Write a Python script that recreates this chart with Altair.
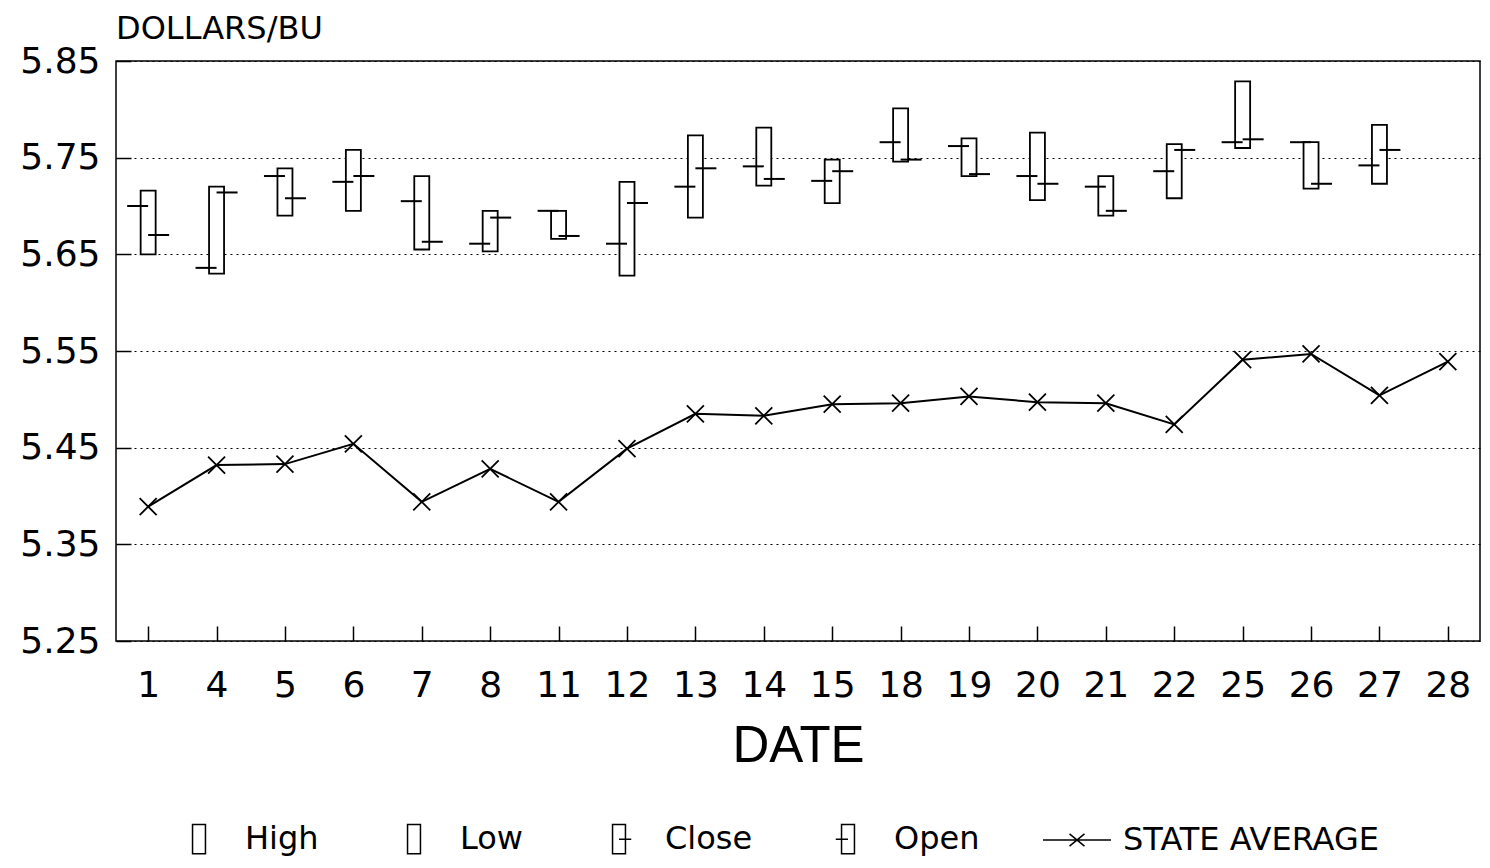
import altair as alt
import pandas as pd

# ---------------- data ----------------
dates = ["1", "4", "5", "6", "7", "8", "11", "12", "13", "14",
         "15", "18", "19", "20", "21", "22", "25", "26", "27", "28"]

high = [5.716, 5.720, 5.739, 5.758, 5.731, 5.695, 5.695, 5.725, 5.773, 5.781,
        5.748, 5.801, 5.770, 5.776, 5.731, 5.764, 5.829, 5.766, 5.784, None]
low = [5.650, 5.630, 5.690, 5.695, 5.655, 5.653, 5.666, 5.628, 5.688, 5.721,
       5.703, 5.746, 5.731, 5.706, 5.690, 5.708, 5.760, 5.718, 5.723, None]
open_ = [5.700, 5.636, 5.731, 5.725, 5.705, 5.661, 5.695, 5.661, 5.720, 5.741,
         5.726, 5.766, 5.762, 5.731, 5.720, 5.736, 5.766, 5.766, 5.742, None]
close = [5.670, 5.714, 5.708, 5.731, 5.663, 5.688, 5.669, 5.703, 5.739, 5.728,
         5.736, 5.748, 5.733, 5.723, 5.695, 5.758, 5.769, 5.723, 5.758, None]
state_avg = [5.389, 5.432, 5.433, 5.454, 5.394, 5.428, 5.394, 5.449, 5.485, 5.483,
             5.495, 5.496, 5.503, 5.497, 5.496, 5.474, 5.541, 5.547, 5.504, 5.539]

y_ticks = [5.25, 5.35, 5.45, 5.55, 5.65, 5.75, 5.85]
series_names = ["High", "Low", "Close", "Open", "STATE AVERAGE"]

# ---------------- tables ----------------
df = pd.DataFrame({"date": dates, "high": high, "low": low,
                   "open": open_, "close": close, "avg": state_avg})

long_rows = []
for i, d in enumerate(dates):
    for name, arr in zip(series_names, [high, low, close, open_, state_avg]):
        if arr[i] is not None:
            long_rows.append({"date": d, "series": name, "value": arr[i]})
df_long = pd.DataFrame(long_rows)

# legend glyphs (custom symbol paths)
rect = "M-0.19,-0.43H0.19V0.43H-0.19Z"
legend_paths = [
    rect,
    rect,
    rect + "M0,0H0.36",
    rect + "M-0.36,0H0",
    "M-1,0H1M-0.22,-0.18L0.22,0.18M-0.22,0.18L0.22,-0.18",
]
x_marker = "M-1,-1L1,1M-1,1L1,-1"

FONT = "DejaVu Sans"

x_enc = alt.X(
    "date:O",
    sort=dates,
    scale=alt.Scale(type="point", padding=0.47),
    axis=alt.Axis(
        title="DATE", labelAngle=0, offset=-15, tickSize=15, tickWidth=1.5,
        tickColor="black", domain=False, grid=False,
        labelPadding=27, labelFont=FONT, labelFontSize=36, labelColor="black",
        titleFont="Liberation Sans", titleFontSize=51, titleFontWeight="normal",
        titleColor="black", titlePadding=18,
    ),
)
y_scale = alt.Scale(domain=[5.25, 5.85], nice=False, zero=False)
y_axis = alt.Axis(
    values=y_ticks, format=".2f", title=None, offset=-15, tickSize=15,
    tickWidth=1.5, tickColor="black", domain=False,
    labelPadding=16, labelFont=FONT, labelFontSize=36, labelColor="black",
    grid=True, gridDash=[2, 4], gridColor="black", gridWidth=1, gridOpacity=1,
)

base = alt.Chart(df)

bars = base.mark_bar(size=15, fill="white", stroke="black", strokeWidth=1.8).encode(
    x=x_enc,
    y=alt.Y("low:Q", scale=y_scale, axis=y_axis),
    y2="high:Q",
)

open_ticks = base.mark_tick(
    xOffset=-10.5, size=21, thickness=2, color="black", opacity=1
).encode(x=x_enc, y=alt.Y("open:Q", scale=y_scale))

close_ticks = base.mark_tick(
    xOffset=10.5, size=21, thickness=2, color="black", opacity=1
).encode(x=x_enc, y=alt.Y("close:Q", scale=y_scale))

avg_line = base.mark_line(color="black", strokeWidth=2).encode(
    x=x_enc, y=alt.Y("avg:Q", scale=y_scale)
)

avg_pts = base.mark_point(
    shape=x_marker, size=289, filled=False, color="black", strokeWidth=1.8, opacity=1
).encode(x=x_enc, y=alt.Y("avg:Q", scale=y_scale))

legend_layer = alt.Chart(df_long).mark_point(
    filled=False, color="black", opacity=0, strokeWidth=1.5
).encode(
    x=x_enc,
    y=alt.Y("value:Q", scale=y_scale),
    shape=alt.Shape(
        "series:N",
        scale=alt.Scale(domain=series_names, range=legend_paths),
        legend=alt.Legend(
            title=None, orient="none", direction="horizontal",
            legendX=48, legendY=743, padding=0,
            symbolSize=4624, symbolStrokeColor="black", symbolStrokeWidth=1.5,
            symbolFillColor="transparent", symbolOpacity=1,
            labelFont=FONT, labelFontSize=32, labelColor="black",
            labelOffset=11, columnPadding=60, labelLimit=400,
        ),
    ),
)

chart = alt.layer(
    bars, open_ticks, close_ticks, avg_line, avg_pts, legend_layer
).properties(
    width=1364,
    height=580,
    background="white",
    autosize=alt.AutoSizeParams(type="none"),
    padding={"left": 108, "top": 53, "right": 2, "bottom": 217},
    title=alt.TitleParams(
        "DOLLARS/BU", anchor="start", frame="group", font=FONT, fontSize=32,
        fontWeight="normal", color="black", offset=-3,
    ),
).configure_view(
    stroke="black", strokeWidth=1.5, fill="white"
)

chart.save("out.html", embed_options={"renderer": "svg", "actions": False})
